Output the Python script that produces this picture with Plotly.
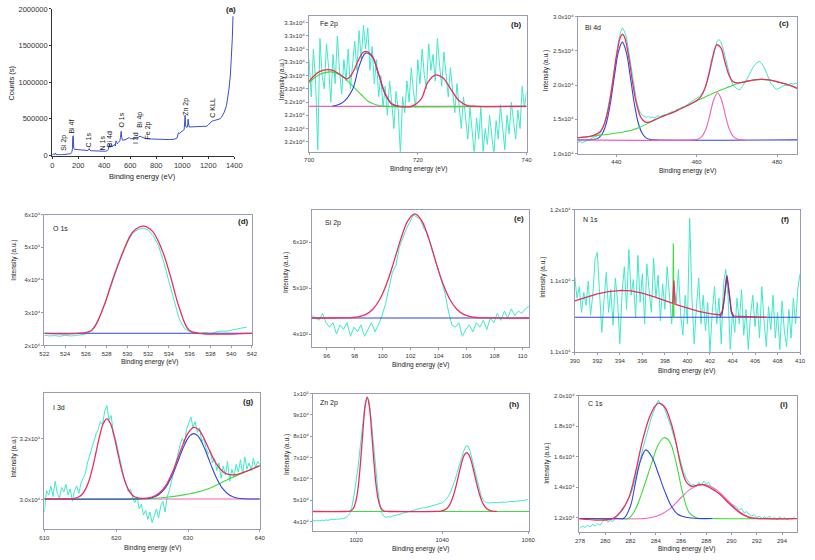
import plotly.graph_objects as go

W, H = 815, 560
FONT = "Liberation Sans, Arial, sans-serif"
RAW = "#3fe9c9"
RED = "#ee2d5c"
BLUE = "#3045e0"
GREEN = "#3fdc3f"
PINK = "#f060c0"
PURPLE = "#5a3a9a"
FRAME = "#9a9ab4"
SURVEY = "#3a4fd0"

# ---------------- (a) survey ----------------
A_X = [0, 10, 20, 25, 30, 40, 60, 80, 95, 100,
       105, 120, 140, 150, 155, 158, 160, 162, 165, 170,
       200, 250, 275, 285, 290, 300, 350, 400, 405, 420,
       430, 440, 445, 450, 455, 460, 470, 480, 485, 490,
       495, 500, 510, 520, 525, 530, 535, 540, 560, 580,
       593, 600, 620, 640, 660, 675, 685, 700, 720, 760,
       800, 850, 900, 940, 960, 970, 980, 990, 1000, 1010,
       1015, 1020, 1022, 1025, 1028, 1035, 1040, 1045, 1048, 1052,
       1060, 1100, 1150, 1190, 1200, 1210, 1220, 1230, 1240, 1250,
       1270, 1290, 1300, 1320, 1340, 1350, 1360, 1370, 1375, 1380, 1385, 1390]
A_Y = [10000, 20000, 15000, 35000, 12000, 8000, 10000, 12000, 15000, 22000,
       14000, 18000, 25000, 40000, 90000, 260000, 150000, 270000, 100000, 85000,
       78000, 70000, 68000, 95000, 70000, 65000, 58000, 55000, 58000, 62000,
       80000, 160000, 110000, 120000, 150000, 120000, 130000, 150000, 130000, 200000,
       180000, 160000, 180000, 200000, 250000, 330000, 240000, 210000, 215000, 230000,
       245000, 230000, 225000, 230000, 245000, 265000, 255000, 240000, 230000, 225000,
       222000, 220000, 218000, 222000, 240000, 310000, 300000, 320000, 330000, 345000,
       360000, 440000, 550000, 420000, 390000, 385000, 390000, 495000, 420000, 390000,
       390000, 392000, 395000, 400000, 420000, 440000, 455000, 470000, 475000, 478000,
       485000, 500000, 520000, 580000, 680000, 780000, 920000, 1100000, 1250000, 1420000, 1600000, 1900000]
A_PEAK_NAMES = ["Si 2p", "Bi 4f", "C 1s", "N 1s", "Bi 4d", "O 1s", "I 3d", "Bi 4p", "Fe 2p", "Zn 2p", "C KLL"]
A_PEAK_X = [91, 149, 280, 388, 439, 532, 646, 679, 740, 1032, 1231]
A_PEAK_Y = [175000, 390000, 214000, 174000, 228000, 482000, 241000, 482000, 348000, 670000, 657000]

# ---------------- (b) Fe 2p ----------------
B_RAW_START, B_RAW_STEP = 700.0, 0.4
B_RAW_Y = [32560, 32420, 32600, 32480, 32220, 32640, 32500, 32450, 32620, 32530,
           32400, 32580, 32470, 32650, 32520, 32430, 32560, 32480, 32600, 32450,
           32540, 32630, 32520, 32670, 32560, 32690, 32600, 32680, 32520, 32610,
           32470, 32560, 32420, 32500, 32380, 32460, 32350, 32480, 32400, 32300,
           32440, 32370, 32200, 32420, 32360, 32480, 32400, 32530, 32440, 32380,
           32560, 32470, 32600, 32500, 32450, 32620, 32520, 32580, 32480, 32640,
           32540, 32460, 32590, 32500, 32420, 32530, 32440, 32360, 32470, 32380,
           32300, 32420, 32330, 32260, 32380, 32300, 32200, 32340, 32260, 32380,
           32210, 32300, 32240, 32350, 32270, 32200, 32330, 32260, 32390, 32290,
           32220, 32350, 32280, 32400, 32320, 32260, 32370, 32300, 32460, 32380,
           32440]
B_BASE_X = [700, 740]
B_BASE_Y = [32384, 32384]
B_GREEN_X = [700.0, 701.9, 704.0, 706.2, 708.0, 709.8, 711.0, 712.8, 714.0, 740.0]
B_GREEN_Y = [32473, 32504, 32514, 32496, 32461, 32424, 32401, 32387, 32384, 32384]
B_BLUE_X = [704.3, 706.2, 708.0, 709.2, 710.4, 711.6, 712.8, 714.0, 715.2, 716.4]
B_BLUE_Y = [32384, 32399, 32448, 32535, 32585, 32572, 32504, 32430, 32393, 32384]
B_RED_X = [700.0, 701.9, 704.0, 705.5, 707.0, 708.0, 709.0, 709.8, 710.4, 711.6, 712.8, 714.0,
           715.2, 716.4, 718.8, 720.6, 721.8, 723.2, 724.6, 726.1, 727.6, 729.1, 730.9, 740.0]
B_RED_Y = [32478, 32515, 32522, 32507, 32488, 32510, 32555, 32585, 32592, 32575, 32506, 32432,
           32394, 32385, 32384, 32411, 32473, 32502, 32492, 32448, 32405, 32387, 32384, 32384]

# ---------------- (c) Bi 4d ----------------
C_RAW_START, C_RAW_STEP = 430.0, 0.5
C_RAW_Y = [11800, 11650, 11750, 11600, 11700, 11850, 11900, 12100, 12250, 12400,
           12500, 12650, 13000, 13600, 14400, 15500, 16700, 18300, 20100, 22200,
           24300, 26200, 27600, 28400, 27900, 27000, 25300, 23300, 21300, 19400,
           17800, 16700, 15900, 15600, 15500, 15300, 15400, 15250, 15350, 15200,
           15400, 15500, 15450, 15600, 15700, 15650, 15900, 16000, 16200, 16150,
           16400, 16500, 16700, 16800, 16900, 17100, 17300, 17400, 17700, 17800,
           18000, 18300, 18600, 19000, 19600, 20300, 21300, 22500, 23900, 25300,
           26300, 26700, 26400, 25500, 24300, 23000, 21800, 20800, 20100, 19700,
           19500, 19300, 19500, 19900, 20400, 20900, 21500, 22100, 22600, 23000,
           23300, 23500, 23300, 22900, 22300, 21500, 20800, 20200, 19900, 19500,
           19400, 19600, 19700, 19900, 20000, 19900, 20100, 20300, 20100, 20300,
           20200]
C_GREEN_X = [430, 432, 434, 436, 438, 440, 442, 444, 446, 448, 450, 452, 454, 456, 458, 460,
             462, 464, 466, 468, 470, 472, 474, 476, 478, 480, 482, 484, 485]
C_GREEN_Y = [12270, 12400, 12550, 12700, 12830, 13000, 13200, 13450, 13900, 14450, 15050, 15550,
             16000, 16550, 17100, 17700, 18250, 18800, 19300, 19750, 20200, 20500, 20750, 20850,
             20770, 20500, 20200, 19800, 19540]
C_BLUE_X = [430, 433.5, 434.5, 435.5, 436.5, 437.5, 438.5, 439.5, 440.5, 441.5, 442.5, 443.5,
            444.5, 445.5, 446.5, 447.5, 448.5, 449.5, 485]
C_BLUE_Y = [12000, 12000, 12060, 12260, 12890, 14400, 17250, 21170, 24800, 26300, 24800, 21170,
            17250, 14400, 12890, 12260, 12060, 12000, 12000]
C_PINK_X = [430, 459.2, 460.2, 461.2, 462.2, 463.2, 464.2, 465.2, 466.2, 467.2, 468.2, 469.2,
            470.2, 471.2, 472.0]
C_PINK_Y = [12000, 12000, 12090, 12430, 13450, 15450, 17800, 18900, 17800, 15450, 13450, 12430,
            12090, 12000, 12000]
C_RED_X = [430, 432, 434, 436, 437, 438, 439, 440, 441, 441.5, 442, 443, 444, 445, 446, 447, 448,
           449, 450, 452, 454, 456, 458, 460, 461, 462, 463, 464, 465, 466, 467, 468, 469, 470,
           471, 472, 474, 476, 478, 480, 482, 484, 485]
C_RED_Y = [12270, 12400, 12590, 13200, 14280, 16490, 20070, 24125, 27014, 27450, 27114, 24450,
           20600, 17335, 15416, 14675, 14580, 14780, 15050, 15550, 16000, 16550, 17100, 17764,
           18300, 19423, 21520, 24182, 25902, 25476, 23458, 21523, 20541, 20331, 20371, 20500,
           20750, 20850, 20770, 20500, 20200, 19800, 19540]

# ---------------- (d) O 1s ----------------
D_RAW_START, D_RAW_STEP = 522.0, 0.5
D_RAW_Y = [23100, 22900, 23000, 22800, 23100, 22900, 23000, 23200,
           23500, 24300, 26800, 30000, 34500, 39300, 43800, 47800, 51500, 54300,
           55400, 55900, 55300, 53500, 50500, 45500, 39500, 33500, 28000, 25200,
           24200, 23800, 23700, 23900, 23500, 24100, 24400, 24300, 24700, 25000,
           25300, 25600]
D_BASE_X = [522, 542]
D_BASE_Y = [23700, 23700]
D_RED_X = [522, 525.5, 526.59, 527.7, 528.65, 529.6, 530.54, 531.59, 532.44, 533.39, 534.18,
           534.97, 535.92, 536.87, 542]
D_RED_Y = [23700, 23750, 24690, 31730, 40750, 48750, 54770, 56480, 54770, 48750, 40750,
           31730, 24690, 23700, 23700]

# ---------------- (e) Si 2p ----------------
E_RAW_START, E_RAW_STEP = 94.95, 0.25
E_RAW_Y = [4400, 4350, 4300, 4450, 4250, 4150, 4250, 4000, 4200, 4100,
           4250, 3950, 4150, 4050, 4200, 3950, 4100, 4250, 4050, 4200,
           4400, 4650, 5000, 5350, 5500, 5900, 6100, 6300, 6450, 6600,
           6550, 6500, 6300, 6200, 5950, 5700, 5450, 5200, 4900, 4500,
           4200, 4150, 4250, 3950, 4100, 4200, 4050, 4250, 4150, 4300,
           4100, 4350, 4250, 4450, 4300, 4500, 4350, 4550, 4400, 4500,
           4450, 4550, 4600]
E_BASE_X = [94.95, 110.5]
E_BASE_Y = [4350, 4350]
E_RED_X = [94.95, 97.3, 97.8, 98.3, 98.8, 99.3, 99.8, 100.3, 100.8, 101.3, 101.8, 102.3, 102.8,
           103.3, 103.8, 104.3, 104.8, 105.3, 105.8, 106.3, 106.8, 107.3, 110.5]
E_RED_Y = [4350, 4352, 4359, 4378, 4429, 4542, 4759, 5108, 5574, 6075, 6470, 6620, 6470, 6075,
           5574, 5108, 4759, 4542, 4429, 4378, 4359, 4352, 4350]

# ---------------- (f) N 1s ----------------
F_RAW_START, F_RAW_STEP = 390.0, 0.2
F_RAW_Y = [11030, 10880, 10960, 10780, 10920, 10830, 11000, 10760, 10900, 11150,
           11200, 10950, 10640, 10870, 11060, 10780, 10940, 10690, 11020, 10860,
           10560, 10920, 11100, 10800, 11220, 10900, 11010, 10740, 11180, 10850,
           11050, 10700, 11120, 10930, 10780, 11160, 10880, 11040, 10720, 10980,
           10800, 11100, 10900, 10700, 10960, 10840, 11080, 10760, 10620, 10900,
           10700, 11440, 10880, 10560, 10820, 11020, 10700, 10900, 10650, 10850,
           10500, 10780, 10960, 10700, 10880, 10560, 10980, 11080, 10900, 10520,
           10780, 10640, 10880, 10700, 10940, 10620, 10800, 10520, 10760, 10900,
           10680, 10850, 10600, 10960, 10720, 10540, 10820, 10660, 10900, 10600,
           10780, 10520, 10860, 10650, 10540, 10800, 10600, 10880, 10700, 10950,
           11050]
F_BASE_X = [390, 410]
F_BASE_Y = [10746, 10746]
F_GREEN_X = [398.7, 398.75, 398.8]
F_GREEN_Y = [10746, 11263, 10746]
F_PURPLE_X = [402.9, 403.1, 403.25, 403.4, 403.5, 403.6, 403.75, 403.9, 404.1]
F_PURPLE_Y = [10746, 10774, 10856, 10977, 11030, 10977, 10856, 10774, 10746]
F_RED_X = [390, 391, 392, 393, 394.2, 395, 396, 397, 398, 398.6, 398.7, 398.8, 398.9, 399, 400,
           401, 402, 402.9, 403.1, 403.25, 403.4, 403.5, 403.6, 403.75, 403.9, 404.1, 405, 406, 407]
F_RED_Y = [10860, 10887, 10910, 10926, 10934, 10930, 10915, 10891, 10863, 10845, 10843, 11003,
           10838, 10834, 10808, 10787, 10771, 10762, 10790, 10870, 10990, 11040, 10990, 10870,
           10790, 10754, 10750, 10748, 10746]

# ---------------- (g) I 3d ----------------
G_RAW_START, G_RAW_STEP = 610.0, 0.3
G_RAW_Y = [29600, 30300, 30150, 30450, 30100, 30600, 30200, 30050, 30400, 30250,
           30500, 30150, 30350, 29950, 30300, 30450, 30200, 30550, 30700, 30850,
           31200, 31450, 31700, 31950, 32150, 32300, 32550, 32450, 32900, 33080,
           32600, 32750, 32200, 32000, 31650, 31300, 30950, 30700, 30500, 30250,
           30350, 30050, 29900, 30100, 29700, 29850, 29500, 29650, 29350, 29600,
           29250, 29500, 29700, 29400, 29800, 29950, 29600, 30100, 30300, 30600,
           30900, 31300, 31500, 31800, 32000, 31850, 32300, 32500, 32700, 32350,
           32550, 32200, 32350, 31900, 32000, 31700, 31500, 31600, 31200, 31350,
           30950, 31200, 30700, 31100, 30800, 31250, 30600, 31000, 30750, 31150,
           30900, 31300, 30850, 31400, 31000, 31200, 30950, 31350, 31050, 31250,
           31150]
G_PINK_X = [610, 640]
G_PINK_Y = [30020, 30020]
G_GREEN_X = [610, 620, 623, 625, 627, 629, 630, 631, 632, 633, 634, 635, 636, 637, 638, 639, 640]
G_GREEN_Y = [30020, 30020, 30025, 30040, 30080, 30140, 30183, 30230, 30290, 30370, 30480, 30600,
             30710, 30810, 30910, 31010, 31110]
G_BLUE_X = [610, 623.8, 624.8, 625.8, 626.8, 627.8, 628.3, 628.8, 629.3, 629.8, 630.3, 630.8,
            631.3, 631.8, 632.3, 632.8, 633.3, 633.8, 634.8, 635.8, 636.8, 637.8, 640]
G_BLUE_Y = [30020, 30028, 30056, 30146, 30369, 30790, 31073, 31379, 31679, 31931, 32100, 32160,
            32100, 31931, 31679, 31379, 31073, 30790, 30369, 30146, 30056, 30028, 30020]
G_RED_X = [610, 613.2, 613.7, 614.2, 614.7, 615.2, 615.7, 616.2, 616.7, 617.2, 617.7, 618.2,
           618.7, 619.2, 619.7, 620.2, 620.7, 621.2, 621.7, 622.2, 622.7, 623.7, 625, 626, 627,
           628, 629, 630, 630.8, 631.5, 632, 633, 634, 635, 636, 637, 638, 639, 640]
G_RED_Y = [30020, 30021, 30027, 30041, 30078, 30162, 30329, 30612, 31031, 31555, 32085, 32488,
           32640, 32488, 32085, 31555, 31031, 30612, 30329, 30162, 30078, 30040, 30087, 30217,
           30496, 30990, 31623, 32173, 32360, 32284, 32107, 31607, 31150, 30889, 30810, 30837,
           30916, 31010, 31110]

# ---------------- (h) Zn 2p ----------------
H_RAW_START, H_RAW_STEP = 1010.0, 0.5
H_RAW_Y = [40500, 40300, 40600, 40400, 40700, 40500, 40800, 40600, 40900, 41100,
           40900, 41200, 41100, 41400, 41300, 41700, 42300, 43800, 46500, 52000,
           58000, 66000, 75500, 85000, 93500, 98300, 96800, 88500, 77500, 66000,
           56000, 48500, 44000, 42500, 42000, 42300, 42200, 42600, 42800, 43200,
           43500, 43700, 44000, 44300, 44500, 44700, 45000, 45400, 45900, 46200,
           46300, 46500, 46400, 46700, 46900, 47000, 47300, 47600, 47900, 48300,
           48800, 49500, 50500, 52000, 54000, 56500, 59500, 63000, 66500, 70000,
           73000, 75300, 75600, 73000, 69000, 64500, 60000, 56000, 52500, 50300,
           49300, 48900, 48700, 48900, 48800, 49000, 48900, 49100, 49000, 49200,
           49100, 49400, 49300, 49500, 49400, 49700, 49600, 49800, 49900, 50200,
           50400]
H_GREEN_X = [1010, 1060.3]
H_GREEN_Y = [44740, 44740]
H_RED_X = [1010, 1017.1, 1018.1, 1018.6, 1019.1, 1019.6, 1020.1, 1020.6, 1021.1, 1021.6, 1022.1,
           1022.6, 1023.1, 1023.6, 1024.1, 1024.6, 1025.1, 1025.6, 1026.1, 1026.6, 1027.1, 1028.1,
           1038.7, 1039.7, 1040.2, 1040.7, 1041.2, 1041.7, 1042.2, 1042.7, 1043.2, 1043.7, 1044.2,
           1044.7, 1045.2, 1045.7, 1046.2, 1046.7, 1047.2, 1047.7, 1048.2, 1048.7, 1049.2, 1049.7,
           1050.2, 1050.7, 1051.2, 1051.7, 1052.7]
H_RED_Y = [44740, 44740, 44790, 44950, 45500, 47100, 50850, 58090, 69290, 82640, 93890,
           98340, 93890, 82640, 69290, 58090, 50850, 47100, 45500, 44950, 44790, 44740,
           44770, 44930, 45160, 45600, 46410, 47750, 49800, 52680, 56370, 60630, 64970,
           68810, 71430, 72370, 71430, 68810, 64970, 60630, 56370, 52680, 49800, 47750,
           46410, 45600, 45160, 44930, 44770]

# ---------------- (i) C 1s ----------------
I_RAW_START, I_RAW_STEP = 278.0, 0.2
I_RAW_Y = [11300, 11450, 11350, 11500, 11400, 11550, 11450, 11600, 11500, 11750,
           11900, 11700, 11800, 11750, 11950, 12100, 12300, 12500, 12800, 13100,
           13500, 14000, 14600, 15200, 15900, 16600, 17200, 17900, 18400, 18900,
           19300, 19700, 19400, 19300, 18900, 18500, 18000, 17400, 16900, 16200,
           15600, 15000, 14600, 14300, 14100, 14200, 14000, 14300, 14100, 14400,
           14200, 14300, 14000, 13900, 13700, 13600, 13500, 13300, 13200, 13000,
           12900, 12800, 12700, 12500, 12600, 12300, 12400, 12200, 12100, 12200,
           12000, 12100, 11900, 12050, 11950, 12100, 11900, 12000, 11850, 12050,
           11900, 12000, 11850, 11950, 11900, 12050]
I_BLUE_X = [277.9, 281.0, 281.48, 282.0, 282.39, 282.78, 283.21, 283.68, 284.19, 284.71, 285.23,
            285.74, 286.51, 287.55, 288.5]
I_BLUE_Y = [11935, 11935, 11960, 12760, 14273, 15682, 16440, 16006, 14922, 13734, 12760, 12218,
            12000, 11935, 11935]
I_GREEN_X = [277.9, 281.3, 281.87, 282.4, 282.9, 283.68, 284.19, 284.66, 285.1, 285.62, 286.13,
             286.65, 287.29, 288.0, 295.2]
I_GREEN_Y = [11935, 11935, 11960, 12550, 13623, 15571, 16766, 17240, 16981, 15571, 13623, 12325,
             11960, 11935, 11935]
I_PINK_X = [277.9, 283.16, 283.68, 284.45, 285.23, 286.0, 286.78, 287.68, 288.58, 289.36, 290.13,
            290.9, 291.68, 292.71, 295.2]
I_PINK_Y = [11935, 11935, 12000, 12218, 12650, 13300, 13883, 14169, 13948, 13409, 12760, 12218,
            11978, 11935, 11935]
I_RED_X = [277.9, 280.58, 281.36, 281.87, 282.39, 282.9, 283.42, 283.93, 284.24, 284.71, 285.23,
           285.62, 286.0, 286.39, 286.78, 287.68, 288.32, 289.1, 289.87, 290.65, 291.42, 292.2, 295.2]
I_RED_Y = [11935, 11935, 12545, 13299, 14922, 16870, 18390, 19299, 19513, 19253, 18169, 16870,
           15357, 14383, 14058, 14169, 13948, 13517, 12870, 12325, 12000, 11935, 11935]


def grid(start, step, values):
    return [round(start + i * step, 4) for i in range(len(values))]


SUPS = {"3": "\u00b3", "4": "\u2074", "5": "\u2075"}


def sup(mant, exp):
    return f"{mant}x10{SUPS[str(exp)]}"


fig = go.Figure()


def ref(n):
    return ("x" if n == 1 else f"x{n}"), ("y" if n == 1 else f"y{n}")


def line(n, x, y, color, width=1.1, shape="linear"):
    xr, yr = ref(n)
    fig.add_trace(go.Scatter(x=x, y=y, mode="lines", xaxis=xr, yaxis=yr, hoverinfo="skip",
                             line=dict(color=color, width=width, shape=shape,
                                       smoothing=1.0 if shape == "spline" else None)))


layout = {}


def axes(n, xpx, ypx, xrange, yrange, xtv, xtt, ytv, ytt, boxed=True, size=6, col=FRAME):
    xr, yr = ref(n)
    common = dict(showgrid=False, zeroline=False, showline=True, linecolor=col, linewidth=1,
                  mirror=boxed, ticks="outside", ticklen=2, tickwidth=0.8, tickcolor=col,
                  tickmode="array", fixedrange=True,
                  tickfont=dict(family=FONT, size=size, color="#333333"))
    layout["xaxis" if n == 1 else f"xaxis{n}"] = dict(
        common, domain=[xpx[0] / W, xpx[1] / W], range=xrange, anchor=yr,
        tickvals=xtv, ticktext=xtt)
    layout["yaxis" if n == 1 else f"yaxis{n}"] = dict(
        common, domain=[1 - ypx[1] / H, 1 - ypx[0] / H], range=yrange, anchor=xr,
        tickvals=ytv, ticktext=ytt)


# (a)
line(1, A_X, A_Y, SURVEY, 1.0)
axes(1, (48, 233), (5, 154), [0, 1400], [0, 2000000],
     [0, 200, 400, 600, 800, 1000, 1200, 1400], ["0", "200", "400", "600", "800", "1000", "1200", "1400"],
     [0, 500000, 1000000, 1500000, 2000000], ["0", "500000", "1000000", "1500000", "2000000"],
     boxed=False, size=7.5, col="#333333")

# (b)
line(2, grid(B_RAW_START, B_RAW_STEP, B_RAW_Y), B_RAW_Y, RAW, 1.0)
line(2, B_BASE_X, B_BASE_Y, PINK)
line(2, B_GREEN_X, B_GREEN_Y, GREEN, shape="spline")
line(2, B_BLUE_X, B_BLUE_Y, BLUE, shape="spline")
line(2, B_RED_X, B_RED_Y, RED, 1.3, shape="spline")
b_ticks = [32250, 32300, 32350, 32400, 32450, 32500, 32550, 32600, 32650, 32700]
axes(2, (309, 530), (12, 150), [700, 740], [32213, 32726],
     [700, 720, 740], ["700", "720", "740"],
     b_ticks, [sup("3.2", 4)] * 5 + [sup("3.3", 4)] * 5)

# (c)
line(3, grid(C_RAW_START, C_RAW_STEP, C_RAW_Y), C_RAW_Y, RAW, 1.0)
line(3, C_BLUE_X, C_BLUE_Y, BLUE, shape="spline")
line(3, C_PINK_X, C_PINK_Y, PINK, shape="spline")
line(3, C_GREEN_X, C_GREEN_Y, GREEN, shape="spline")
line(3, C_RED_X, C_RED_Y, RED, 1.3, shape="spline")
axes(3, (582, 805), (13, 152), [430.4, 485], [10000, 30000],
     [440, 460, 480], ["440", "460", "480"],
     [10000, 15000, 20000, 25000, 30000],
     [sup("1.0", 4), sup("1.5", 4), sup("2.0", 4), sup("2.5", 4), sup("3.0", 4)])

# (d)
line(4, grid(D_RAW_START, D_RAW_STEP, D_RAW_Y), D_RAW_Y, RAW, 1.0)
line(4, D_BASE_X, D_BASE_Y, BLUE)
line(4, D_RED_X, D_RED_Y, RED, 1.3, shape="spline")
axes(4, (40, 251), (214, 347), [522, 542], [20000, 60000],
     list(range(522, 543, 2)), [str(v) for v in range(522, 543, 2)],
     [20000, 30000, 40000, 50000, 60000], [sup(m, 4) for m in ("2", "3", "4", "5", "6")])

# (e)
line(5, grid(E_RAW_START, E_RAW_STEP, E_RAW_Y), E_RAW_Y, RAW, 1.0)
line(5, E_BASE_X, E_BASE_Y, BLUE)
line(5, E_RED_X, E_RED_Y, RED, 1.3, shape="spline")
axes(5, (312, 533), (209, 349), [94.95, 110.5], [3709, 6713],
     list(range(96, 111, 2)), [str(v) for v in range(96, 111, 2)],
     [4000, 5000, 6000], [sup(m, 3) for m in ("4", "5", "6")])

# (f)
line(6, grid(F_RAW_START, F_RAW_STEP, F_RAW_Y), F_RAW_Y, RAW, 1.0)
line(6, F_BASE_X, F_BASE_Y, BLUE)
line(6, F_GREEN_X, F_GREEN_Y, GREEN, 1.2)
line(6, F_RED_X, F_RED_Y, RED, 1.3)
line(6, F_PURPLE_X, F_PURPLE_Y, PURPLE, 1.0)
axes(6, (579, 808), (209, 354), [390, 410], [10500, 11500],
     list(range(390, 411, 2)), [str(v) for v in range(390, 411, 2)],
     [10500, 11000, 11500], [sup("1.1", 4), sup("1.1", 4), sup("1.2", 4)])

# (g)
line(7, grid(G_RAW_START, G_RAW_STEP, G_RAW_Y), G_RAW_Y, RAW, 1.0)
line(7, G_PINK_X, G_PINK_Y, PINK)
line(7, G_GREEN_X, G_GREEN_Y, GREEN, shape="spline")
line(7, G_BLUE_X, G_BLUE_Y, BLUE, shape="spline")
line(7, G_RED_X, G_RED_Y, RED, 1.3, shape="spline")
axes(7, (40, 259), (395, 534), [610, 640], [29027, 33499],
     [610, 620, 630, 640], ["610", "620", "630", "640"],
     [30000, 32000], [sup("3.0", 4), sup("3.2", 4)])

# (h)
line(8, grid(H_RAW_START, H_RAW_STEP, H_RAW_Y), H_RAW_Y, RAW, 1.0)
line(8, H_GREEN_X, H_GREEN_Y, GREEN)
line(8, H_RED_X, H_RED_Y, RED, 1.3, shape="spline")
axes(8, (313, 533), (396, 536), [1010, 1060.3], [35420, 100000],
     [1020, 1040, 1060], ["1020", "1040", "1060"],
     [40000, 50000, 60000, 70000, 80000, 90000, 100000],
     [sup(m, 4) for m in ("4", "5", "6", "7", "8", "9")] + [sup("1", 5)])

# (i)
line(9, grid(I_RAW_START, I_RAW_STEP, I_RAW_Y), I_RAW_Y, RAW, 1.0)
line(9, I_PINK_X, I_PINK_Y, PINK, shape="spline")
line(9, I_GREEN_X, I_GREEN_Y, GREEN, shape="spline")
line(9, I_BLUE_X, I_BLUE_Y, BLUE, shape="spline")
line(9, I_RED_X, I_RED_Y, RED, 1.3, shape="spline")
axes(9, (583, 805), (398, 537), [277.9, 295.2], [11030, 20000],
     list(range(278, 295, 2)), [str(v) for v in range(278, 295, 2)],
     [12000, 14000, 16000, 18000, 20000], [sup(m, 4) for m in ("1.2", "1.4", "1.6", "1.8", "2.0")])

ann = []


def text(px, py, s, size=6.5, angle=0, xanchor="center", bold=False, color="#222222"):
    ann.append(dict(x=px / W, y=1 - py / H, xref="paper", yref="paper", text=s,
                    showarrow=False, textangle=angle, xanchor=xanchor, yanchor="middle",
                    font=dict(family=FONT, size=size, color=color,
                              weight="bold" if bold else "normal")))


# axis titles
XT = [(140, 175, 7.5), (420, 168, 6.5), (694, 170, 6.5), (147, 364, 6.5), (422, 367, 6.5),
      (693, 373, 6.5), (150, 553, 6.5), (422, 554, 6.5), (693, 554, 6.5)]
for px, py, s in XT:
    text(px, py, "Binding energy (eV)", size=s)
text(7, 80, "Counts (s)", size=7.5, angle=-90)
YT = [(281, 77), (550, 68), (9, 260), (285, 273), (546, 278), (9, 460), (286, 458), (551, 467)]
for px, py in YT:
    text(px, py, "Intensity (a.u.)", size=6.5, angle=-90)

# panel names / letters
PANEL_NAMES = ["Fe 2p", "Bi 4d", "O 1s", "Si 2p", "N 1s", "I 3d", "Zn 2p", "C 1s"]
NAME_POS = [(318, 20), (587, 24), (47, 228), (323, 223), (585, 219), (47, 410), (318, 406), (590, 406)]
LETTERS = ["(a)", "(b)", "(c)", "(d)", "(e)", "(f)", "(g)", "(h)", "(i)"]
LETTER_POS = [(230, 6), (520, 21), (792, 20), (242, 221), (522, 218), (793, 219), (247, 404), (518, 407), (792, 407)]
for s, (px, py) in zip(PANEL_NAMES, NAME_POS):
    text(px, py, s, size=7, xanchor="left")
for s, (px, py) in zip(LETTERS, LETTER_POS):
    text(px, py, s, size=8, bold=True)

# survey peak labels
for s, x, y in zip(A_PEAK_NAMES, A_PEAK_X, A_PEAK_Y):
    ann.append(dict(x=x, y=y, xref="x", yref="y", text=s, showarrow=False, textangle=-90,
                    font=dict(family=FONT, size=7, color="#222222")))

fig.update_layout(width=W, height=H, margin=dict(l=0, r=0, t=0, b=0), showlegend=False,
                  paper_bgcolor="white", plot_bgcolor="white", annotations=ann, **layout)

fig.write_html("out.html", config={"displayModeBar": False},
               post_script="document.body.style.margin='0';")
